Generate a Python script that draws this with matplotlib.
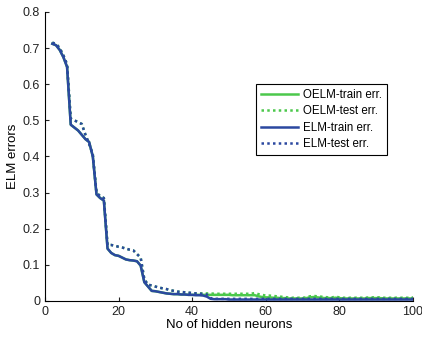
import matplotlib
matplotlib.use("Agg")
import matplotlib.pyplot as plt

plt.rcParams['font.family'] = ['Liberation Sans', 'DejaVu Sans']

neurons = list(range(2, 101))

elm_train = ([0.712, 0.708, 0.695, 0.675, 0.648,
              0.488, 0.480, 0.472, 0.460, 0.448, 0.440, 0.400,
              0.295, 0.285, 0.278,
              0.145, 0.133, 0.127, 0.125, 0.120, 0.115, 0.113, 0.112, 0.110, 0.098,
              0.052, 0.040, 0.028, 0.027, 0.025, 0.023, 0.021, 0.020, 0.019, 0.019,
              0.018, 0.018, 0.017, 0.017, 0.016, 0.016, 0.015, 0.012]
             + [0.006, 0.005, 0.005, 0.005, 0.005, 0.004, 0.004, 0.004, 0.004, 0.004,
                0.004, 0.004, 0.004, 0.004, 0.004, 0.004, 0.004, 0.004, 0.004, 0.004,
                0.004, 0.004, 0.004, 0.004, 0.004, 0.004, 0.004, 0.004, 0.004, 0.004,
                0.004, 0.004, 0.004, 0.004, 0.004, 0.004, 0.004, 0.004, 0.004, 0.004,
                0.004, 0.004, 0.004, 0.004, 0.004, 0.004, 0.004, 0.004, 0.004, 0.004,
                0.004, 0.004, 0.004, 0.004, 0.004, 0.004])

elm_test = ([0.715, 0.712, 0.700, 0.680, 0.655,
             0.505, 0.500, 0.495, 0.490, 0.460, 0.435, 0.405,
             0.300, 0.290, 0.285,
             0.155, 0.155, 0.153, 0.150, 0.148, 0.145, 0.142, 0.140, 0.130, 0.120,
             0.060, 0.045, 0.043, 0.040, 0.037, 0.035, 0.033, 0.030, 0.028, 0.026,
             0.025, 0.024, 0.023, 0.022, 0.021, 0.020, 0.020, 0.018]
            + [0.008, 0.006, 0.006, 0.006, 0.006, 0.006, 0.006, 0.006, 0.006, 0.006,
               0.006, 0.006, 0.006, 0.006, 0.006, 0.006, 0.006, 0.006, 0.006, 0.006,
               0.006, 0.006, 0.006, 0.006, 0.006, 0.006, 0.006, 0.006, 0.006, 0.006,
               0.006, 0.006, 0.006, 0.006, 0.006, 0.006, 0.006, 0.006, 0.006, 0.006,
               0.006, 0.006, 0.006, 0.006, 0.006, 0.006, 0.006, 0.006, 0.006, 0.006,
               0.006, 0.006, 0.006, 0.006, 0.006, 0.006])

oelm_train = ([0.712, 0.708, 0.695, 0.675, 0.648,
               0.488, 0.480, 0.472, 0.460, 0.448, 0.440, 0.400,
               0.295, 0.285, 0.278,
               0.145, 0.133, 0.127, 0.125, 0.120, 0.115, 0.113, 0.112, 0.110, 0.098,
               0.052, 0.040, 0.028, 0.027, 0.025, 0.023, 0.021, 0.020, 0.019, 0.019,
               0.018, 0.018, 0.017, 0.017, 0.017, 0.017, 0.017, 0.017]
              + [0.017, 0.017, 0.017, 0.017, 0.017, 0.017, 0.016, 0.016, 0.016, 0.016,
                 0.016, 0.016, 0.016, 0.013, 0.011, 0.010, 0.010, 0.009, 0.009, 0.008,
                 0.008, 0.007, 0.007, 0.007, 0.007, 0.007, 0.008, 0.010, 0.011, 0.010,
                 0.009, 0.008, 0.008, 0.008, 0.009, 0.008, 0.007, 0.007, 0.007, 0.007,
                 0.007, 0.007, 0.007, 0.008, 0.008, 0.008, 0.008, 0.007, 0.007, 0.007,
                 0.007, 0.007, 0.007, 0.007, 0.007, 0.007])

oelm_test = ([0.715, 0.712, 0.700, 0.680, 0.655,
              0.505, 0.500, 0.495, 0.490, 0.460, 0.435, 0.405,
              0.300, 0.290, 0.285,
              0.155, 0.155, 0.153, 0.150, 0.148, 0.145, 0.142, 0.140, 0.130, 0.120,
              0.060, 0.045, 0.043, 0.040, 0.037, 0.035, 0.033, 0.030, 0.028, 0.026,
              0.025, 0.024, 0.023, 0.022, 0.021, 0.021, 0.021, 0.021]
             + [0.021, 0.020, 0.020, 0.020, 0.020, 0.020, 0.020, 0.020, 0.020, 0.020,
                0.020, 0.020, 0.022, 0.019, 0.017, 0.015, 0.015, 0.014, 0.013, 0.012,
                0.011, 0.010, 0.009, 0.009, 0.009, 0.009, 0.010, 0.013, 0.014, 0.013,
                0.012, 0.011, 0.010, 0.010, 0.012, 0.010, 0.009, 0.009, 0.009, 0.009,
                0.009, 0.009, 0.009, 0.010, 0.010, 0.010, 0.010, 0.009, 0.009, 0.009,
                0.009, 0.009, 0.009, 0.009, 0.009, 0.010])

xticks = [0, 20, 40, 60, 80, 100]
yticks = [0, 0.1, 0.2, 0.3, 0.4, 0.5, 0.6, 0.7, 0.8]
ytick_labels = ['0', '0.1', '0.2', '0.3', '0.4', '0.5', '0.6', '0.7', '0.8']

green = '#4cc84c'
blue = '#2b48a0'

fig = plt.figure(figsize=(4.22, 3.38), dpi=100)
ax = fig.add_axes([0.1066, 0.1095, 0.872, 0.855])

ax.plot(neurons, oelm_train, color=green, lw=1.8, label='OELM-train err.')
ax.plot(neurons, oelm_test, color=green, lw=1.8, ls=(0, (1, 1.3)), label='OELM-test err.')
ax.plot(neurons, elm_train, color=blue, lw=1.8, label='ELM-train err.')
ax.plot(neurons, elm_test, color=blue, lw=1.8, ls=(0, (1, 1.3)), label='ELM-test err.')

ax.set_xlim(0, 100)
ax.set_ylim(0, 0.8)
ax.set_xticks(xticks)
ax.set_yticks(yticks)
ax.set_yticklabels(ytick_labels)
ax.tick_params(direction='in', length=3, labelsize=9, colors='#222222')
ax.spines['top'].set_visible(False)
ax.spines['right'].set_visible(False)
ax.set_xlabel('No of hidden neurons', fontsize=9.5, labelpad=1)
ax.set_ylabel('ELM errors', fontsize=9.5, labelpad=3)

leg = ax.legend(loc='upper left', bbox_to_anchor=(0.574, 0.752), fontsize=8.3,
                frameon=True, fancybox=False, edgecolor='black', framealpha=1,
                handlelength=3.2, borderpad=0.45, labelspacing=0.38, handletextpad=0.4,
                borderaxespad=0)
leg.get_frame().set_linewidth(0.8)

fig.savefig('out.png', dpi=100)
